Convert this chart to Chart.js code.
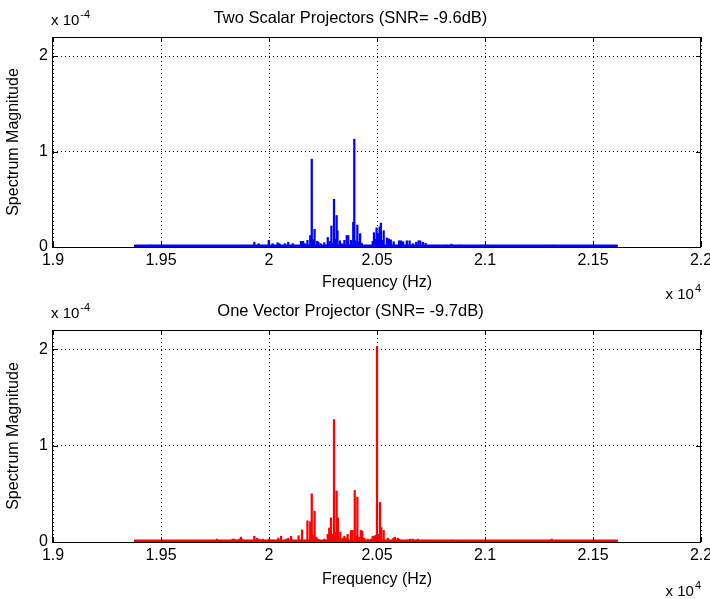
<!DOCTYPE html>
<html>
<head>
<meta charset="utf-8">
<script src="https://cdn.jsdelivr.net/npm/chart.js@4.4.1/dist/chart.umd.min.js"></script>
<style>
  html, body { margin: 0; padding: 0; background: #fff; }
  #wrap { position: relative; width: 710px; height: 599px; overflow: hidden; }
  canvas { position: absolute; left: 0; }
</style>
</head>
<body>
<div id="wrap">
  <canvas id="topChart" width="710" height="300" style="top:0"></canvas>
  <canvas id="bottomChart" width="710" height="306" style="top:293px"></canvas>
</div>
<script>
// axis ticks (frequency in Hz, magnitude in units of 1e-4)
const xTickValues = [19000, 19500, 20000, 20500, 21000, 21500, 22000];
const xTickLabels = ['1.9', '1.95', '2', '2.05', '2.1', '2.15', '2.2'];
const yTickValues = [0, 1, 2];
const yTickLabels = ['0', '1', '2'];

// noise floor span, both plots
const floorFreq = [19375, 21615];
const floorMag = [0.012, 0.012];

// Two Scalar Projectors (blue)
const scalarFreq = [19454, 19932, 19952, 19999, 20017, 20040, 20048, 20074, 20089, 20110,
  20148, 20158, 20167, 20178, 20191, 20198, 20205, 20211, 20223, 20229,
  20240, 20256, 20272, 20281, 20289, 20295, 20301, 20307, 20313, 20317,
  20328, 20337, 20349, 20360, 20367, 20380, 20390, 20395, 20401, 20409,
  20415, 20422, 20429, 20480, 20486, 20492, 20498, 20505, 20512, 20518,
  20524, 20531, 20546, 20555, 20564, 20577, 20602, 20611, 20621, 20638,
  20651, 20666, 20681, 20692, 20700, 20712, 20725, 20820, 20845, 20885, 21318];
const scalarMag = [0.02, 0.05, 0.035, 0.07, 0.035, 0.045, 0.035, 0.035, 0.05, 0.035,
  0.06, 0.06, 0.035, 0.07, 0.12, 0.92, 0.08, 0.185, 0.06, 0.05,
  0.035, 0.045, 0.10, 0.06, 0.22, 0.04, 0.50, 0.08, 0.33, 0.17,
  0.065, 0.035, 0.07, 0.12, 0.12, 0.07, 0.26, 1.13, 0.065, 0.23,
  0.055, 0.14, 0.04, 0.06, 0.15, 0.08, 0.20, 0.14, 0.21, 0.25,
  0.07, 0.17, 0.095, 0.085, 0.075, 0.055, 0.065, 0.065, 0.055, 0.065,
  0.065, 0.035, 0.05, 0.065, 0.065, 0.05, 0.04, 0.02, 0.03, 0.02, 0.02];

// One Vector Projector (red)
const vectorFreq = [19435, 19504, 19759, 19832, 19840, 19862, 19870, 19877, 19932, 19944,
  19955, 19971, 20001, 20017, 20043, 20056, 20079, 20089, 20102, 20137,
  20153, 20178, 20191, 20198, 20205, 20211, 20219, 20228, 20256, 20272,
  20279, 20287, 20295, 20301, 20307, 20313, 20319, 20330, 20341, 20349,
  20358, 20364, 20380, 20387, 20397, 20403, 20409, 20418, 20426, 20432,
  20441, 20457, 20472, 20480, 20488, 20494, 20500, 20508, 20514, 20520,
  20531, 20550, 20576, 20583, 20596, 20603, 20642, 20653, 20665, 20688,
  20847, 21309];
const vectorMag = [0.015, 0.02, 0.03, 0.03, 0.03, 0.03, 0.05, 0.03, 0.06, 0.04,
  0.03, 0.03, 0.03, 0.02, 0.04, 0.06, 0.03, 0.04, 0.06, 0.065,
  0.125, 0.22, 0.21, 0.50, 0.07, 0.32, 0.05, 0.03, 0.03, 0.08,
  0.145, 0.25, 0.08, 1.27, 0.10, 0.53, 0.25, 0.10, 0.04, 0.06,
  0.04, 0.08, 0.12, 0.12, 0.535, 0.06, 0.465, 0.05, 0.12, 0.11,
  0.04, 0.03, 0.03, 0.06, 0.06, 0.07, 2.03, 0.08, 0.41, 0.15,
  0.12, 0.04, 0.04, 0.05, 0.04, 0.03, 0.02, 0.03, 0.03, 0.03,
  0.02, 0.03];

const FONT = "'Liberation Sans', Arial, sans-serif";

// MATLAB style: inward tick marks and a closed axes box
const axesBox = {
  id: 'axesBox',
  afterDatasetsDraw(chart) {
    const { ctx, chartArea: a, scales: { x, y } } = chart;
    ctx.save();
    ctx.strokeStyle = '#000';
    ctx.lineWidth = 1;
    ctx.beginPath();
    xTickValues.forEach(v => {
      const px = Math.round(x.getPixelForValue(v)) + 0.5;
      ctx.moveTo(px, a.bottom); ctx.lineTo(px, a.bottom - 5);
      ctx.moveTo(px, a.top); ctx.lineTo(px, a.top + 5);
    });
    yTickValues.forEach(v => {
      const py = Math.round(y.getPixelForValue(v)) + 0.5;
      ctx.moveTo(a.left, py); ctx.lineTo(a.left + 5, py);
      ctx.moveTo(a.right, py); ctx.lineTo(a.right - 5, py);
    });
    ctx.stroke();
    ctx.strokeRect(Math.round(a.left) - 0.5, Math.round(a.top) + 0.5,
      Math.round(a.right - a.left), Math.round(a.bottom - a.top));
    ctx.restore();
  }
};

// "x 10^n" exponent labels
const expLabels = {
  id: 'expLabels',
  afterDraw(chart, args, opts) {
    const { ctx, chartArea: a } = chart;
    ctx.save();
    ctx.fillStyle = '#000';
    ctx.textBaseline = 'alphabetic';
    ctx.textAlign = 'left';
    // y exponent, above the top-left corner
    ctx.font = '15px ' + FONT;
    ctx.fillText('x 10', a.left - 2, opts.yBase);
    const w1 = ctx.measureText('x 10').width;
    ctx.font = '11px ' + FONT;
    ctx.fillText('-4', a.left - 1 + w1, opts.yBase - 7);
    // x exponent, below the bottom-right corner
    ctx.font = '11px ' + FONT;
    const w3 = ctx.measureText('4').width;
    ctx.fillText('4', a.right - w3, opts.xBase - 7);
    ctx.font = '15px ' + FONT;
    const w2 = ctx.measureText('x 10').width;
    ctx.fillText('x 10', a.right - w3 - 1 - w2, opts.xBase);
    ctx.restore();
  }
};

function makeChart(id, title, freq, mag, color, g) {
  const bars = freq.map((f, i) => ({ x: f, y: mag[i] }));
  const floor = floorFreq.map((f, i) => ({ x: f, y: floorMag[i] }));
  return new Chart(document.getElementById(id), {
    type: 'bar',
    data: {
      datasets: [
        { type: 'line', data: floor, borderColor: color, borderWidth: 2.5, pointRadius: 0, order: 2 },
        { data: bars, backgroundColor: color, borderWidth: 0, barThickness: 1.6, order: 1 }
      ]
    },
    options: {
      responsive: false,
      animation: false,
      layout: { padding: { left: 0, right: 9, top: 0, bottom: 0 } },
      plugins: {
        legend: { display: false },
        tooltip: { enabled: false },
        title: {
          display: true, text: title, color: '#000',
          font: { family: FONT, size: 16.5, weight: 'normal', lineHeight: 1.2 },
          padding: { top: g.titleTop, bottom: 37 - 19.8 - g.titleTop }
        },
        expLabels: { yBase: g.yBase, xBase: g.xBase }
      },
      scales: {
        x: {
          type: 'linear', min: 19000, max: 22000, offset: false,
          afterBuildTicks: s => { s.ticks = xTickValues.map(v => ({ value: v })); },
          afterFit: s => { s.height = g.xAxisH; s.paddingLeft = 0; s.paddingRight = 0; },
          ticks: {
            autoSkip: false, maxRotation: 0, padding: 4, color: '#000',
            font: { family: FONT, size: 16 },
            callback: v => xTickLabels[xTickValues.indexOf(v)]
          },
          grid: { color: '#000', lineWidth: 1, drawTicks: false, offset: false },
          border: { display: false, dash: [1, 3] },
          title: {
            display: true, text: 'Frequency (Hz)', color: '#000',
            font: { family: FONT, size: 16 }, padding: { top: 0, bottom: g.xTitlePad }
          }
        },
        y: {
          min: 0, max: 2.2,
          afterBuildTicks: s => { s.ticks = yTickValues.map(v => ({ value: v })); },
          afterFit: s => { s.width = 53; s.paddingTop = 0; s.paddingBottom = 0; },
          ticks: {
            padding: 5, color: '#000', font: { family: FONT, size: 16 },
            callback: v => yTickLabels[yTickValues.indexOf(v)]
          },
          grid: { color: '#000', lineWidth: 1, drawTicks: false },
          border: { display: false, dash: [1, 3] },
          title: {
            display: true, text: 'Spectrum Magnitude', color: '#000',
            font: { family: FONT, size: 16 }, padding: { top: 4, bottom: 0 }
          }
        }
      }
    },
    plugins: [axesBox, expLabels]
  });
}

makeChart('topChart', 'Two Scalar Projectors (SNR= -9.6dB)', scalarFreq, scalarMag, '#0000ff',
  { titleTop: 9, yBase: 25, xBase: 299, xAxisH: 53, xTitlePad: 8 });
makeChart('bottomChart', 'One Vector Projector (SNR= -9.7dB)', vectorFreq, vectorMag, '#ff0000',
  { titleTop: 9, yBase: 25, xBase: 303, xAxisH: 57, xTitlePad: 10 });
</script>
</body>
</html>
